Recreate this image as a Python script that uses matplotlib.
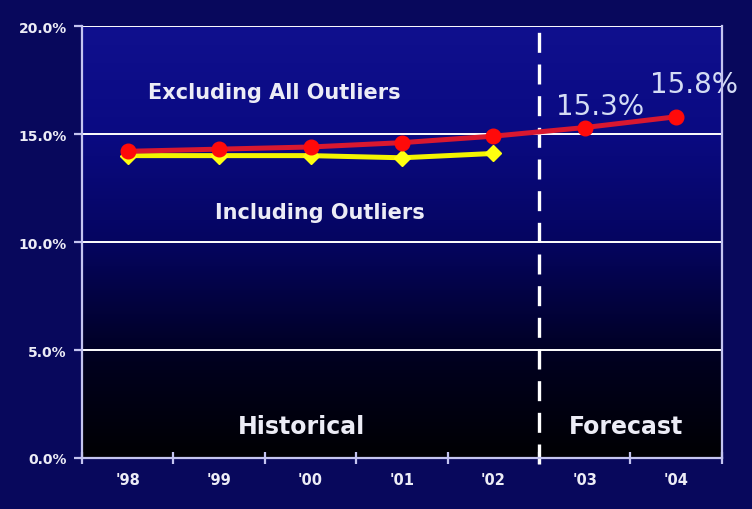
import numpy as np
import matplotlib
matplotlib.use("Agg")
import matplotlib.pyplot as plt
from matplotlib.colors import LinearSegmentedColormap

# Data
years = ["'98", "'99", "'00", "'01", "'02", "'03", "'04"]
excluding_outliers = [14.2, 14.3, 14.4, 14.6, 14.9, 15.3, 15.8]
including_outliers = [14.0, 14.0, 14.0, 13.9, 14.1]
y_ticks = [0, 5, 10, 15, 20]
forecast_idx = [5, 6]

fig_bg = "#08085c"
axis_col = "#c4c4f0"
text_col = "#ececf6"

fig = plt.figure(figsize=(7.52, 5.10), dpi=100, facecolor=fig_bg)
ax = fig.add_axes([0.109, 0.100, 0.851, 0.847])
ax.set_facecolor("black")

x = np.arange(len(years))
ax.set_xlim(-0.5, len(years) - 0.5)
ax.set_ylim(0, 20)

# vertical gradient background: blue at top fading to black at the bottom
grad_cmap = LinearSegmentedColormap.from_list(
    "bg", [(0.0, "#000003"), (0.22, "#00001e"), (0.5, "#050560"),
           (0.75, "#0a0a82"), (1.0, "#10108e")])
grad = np.linspace(0, 1, 256).reshape(-1, 1)
ax.imshow(grad, cmap=grad_cmap, origin="lower", aspect="auto",
          extent=(-0.5, len(years) - 0.5, 0, 20), zorder=0)

# gridlines
for yv in y_ticks[1:]:
    ax.axhline(yv, color="white", lw=1.4, zorder=1)

# historical / forecast divider
ax.plot([4.5, 4.5], [-0.3, 20], color="white", lw=2.4, ls=(0, (6, 3.5)),
        zorder=2, clip_on=False, solid_capstyle="butt")

# series
ax.plot(x[:len(including_outliers)], including_outliers, color="#f4f400",
        lw=3.6, marker="D", ms=8.5, mfc="#ffff10", mec="#ffff10", zorder=3)
ax.plot(x, excluding_outliers, color="#d81830", lw=3.6, marker="o", ms=10.5,
        mfc="#ff0a0a", mec="#ff0a0a", zorder=4)

# forecast value labels
label_offsets = {5: (0.17, 1.0), 6: (0.19, 1.5)}
for i in forecast_idx:
    dx, dy = label_offsets[i]
    ax.text(x[i] + dx, excluding_outliers[i] + dy, f"{excluding_outliers[i]:.1f}%",
            ha="center", va="center", fontsize=20, color="#d4dcf4", zorder=5)

# text annotations
bold = dict(color=text_col, fontweight="bold", ha="center", va="center", zorder=5)
ax.text(1.6, 16.95, "Excluding All Outliers", fontsize=15, **bold)
ax.text(2.1, 11.4, "Including Outliers", fontsize=15, **bold)
ax.text(1.9, 1.5, "Historical", fontsize=17, **bold)
ax.text(5.45, 1.5, "Forecast", fontsize=17, **bold)

# axes styling
for side in ["left", "bottom", "right"]:
    ax.spines[side].set_color(axis_col)
    ax.spines[side].set_linewidth(1.6)
    ax.spines[side].set_zorder(6)
ax.spines["top"].set_visible(False)

ax.set_yticks(y_ticks)
ax.set_yticklabels([f"{v:.1f}%" for v in y_ticks])
ax.tick_params(axis="y", length=6, width=1.6, color=axis_col, pad=5,
               labelsize=10, labelcolor=text_col)

ax.set_xticks(x)
ax.set_xticklabels(years)
ax.set_xticks(np.arange(-0.5, len(years) + 0.5), minor=True)
ax.tick_params(axis="x", which="major", length=0, pad=10,
               labelsize=10.5, labelcolor=text_col)
ax.tick_params(axis="x", which="minor", direction="inout", length=8,
               width=1.6, color=axis_col)
for lab in ax.get_xticklabels() + ax.get_yticklabels():
    lab.set_fontweight("bold")

fig.savefig("out.png", dpi=100, facecolor=fig_bg)
